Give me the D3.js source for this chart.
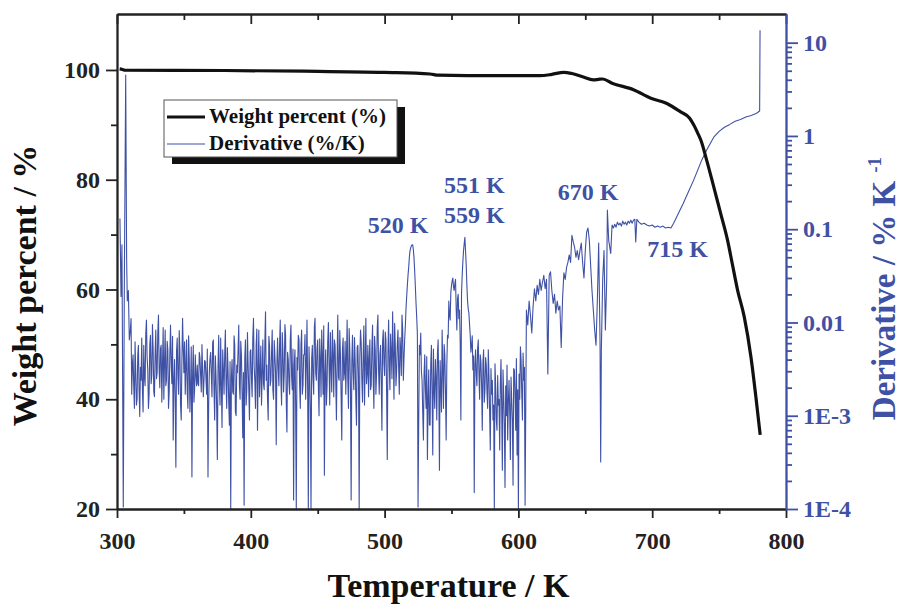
<!DOCTYPE html>
<html>
<head>
<meta charset="utf-8" />
<title>TGA weight percent and derivative</title>
<script src="https://d3js.org/d3.v7.min.js"></script>
<style>
  body { margin: 0; background: #fff; }
  text { font-family: "Liberation Serif", "Times New Roman", serif; font-weight: bold; }
</style>
</head>
<body>
<div id="chart"></div>
<script>

// ---- data ----
// weight percent (%) against temperature (K)
var weightT = [302, 304, 306, 380, 440, 500, 534, 540, 562, 616, 625, 634, 640, 648, 656, 660, 663, 670, 686, 699, 711, 721, 728, 731, 734, 736.4, 741, 746, 751, 756.3, 760, 763.8, 768.8, 773.8, 777.5, 780.7];
var weightV = [100.2, 100.1, 99.95, 99.9, 99.78, 99.55, 99.27, 99.05, 98.96, 98.96, 99.2, 99.58, 99.35, 98.75, 98.18, 98.3, 98.36, 97.6, 96.4, 94.85, 93.9, 92.4, 91.2, 90.0, 88.5, 87.2, 83.3, 78.7, 74, 69, 64.5, 59.9, 55.0, 47.7, 40.4, 33.5];

// derivative (%/K): first readings before the noisy part
var derivHeadT = [302.2, 303, 303.7, 304.7, 305.5, 306.5, 307.2, 307.7, 308.5, 309.2];
var derivHeadV = [0.13, 0.019, 0.068, 0.000105, 0.029, 4.5, 0.047, 0.017, 0.022, 0.0065];

// noisy part, readings at whole kelvins starting at 310 K
var derivNoiseStart = 310;
var derivNoise = [
  0.0083, 0.0017, 0.0045, 0.0012, 0.0029, 0.0015, 0.0057, 0.00098, 0.0024, 0.0019,
  0.0057, 0.0021, 0.0106, 0.0031, 0.0017, 0.0073, 0.0027, 0.0051, 0.0016, 0.0083,
  0.0029, 0.012, 0.002, 0.0057, 0.0035, 0.0015, 0.0083, 0.0024, 0.0051, 0.0018,
  0.0094, 0.0022, 0.00055, 0.004, 0.00028, 0.0068, 0.0017, 0.0051, 0.0009, 0.0111,
  0.0029, 0.0017, 0.0065, 0.0012, 0.004, 0.0021, 0.00022, 0.0057, 0.0019, 0.0027,
  0.0035, 0.0021, 0.0042, 0.0018, 0.0031, 0.0024, 0.0038, 0.0017, 0.00022, 0.0029,
  0.0048, 0.0016, 0.0065, 0.0009, 0.0027, 0.00034, 0.0073, 0.0013, 0.0021, 0.0051,
  0.0017, 0.0083, 0.0012, 0.0031, 0.00079, 0.0001, 0.004, 0.0017, 0.0057, 0.001,
  0.0029, 0.0094, 0.0015, 0.0045, 0.00058, 0.00011, 0.0065, 0.0019, 0.0035, 0.0009,
  0.0051, 0.0016, 0.0111, 0.0024, 0.0057, 0.0007, 0.0083, 0.0029, 0.0013, 0.0065,
  0.0019, 0.013, 0.0035, 0.0009, 0.0057, 0.0024, 0.0083, 0.0015, 0.0045, 0.00049,
  0.0068, 0.0021, 0.0106, 0.0013, 0.0051, 0.0029, 0.0073, 0.00067, 0.004, 0.0017,
  0.0094, 0.0019, 0.000125, 0.0051, 0.0001, 0.0031, 0.0065, 0.0012, 0.0083, 0.0021,
  0.0045, 0.0015, 0.0106, 0.0001, 0.0029, 0.0001, 0.0057, 0.0017, 0.0111, 0.0024,
  0.0065, 0.001, 0.004, 0.0083, 0.0017, 0.00023, 0.0051, 0.0021, 0.01, 0.0013,
  0.0035, 0.0083, 0.0016, 0.0057, 0.0009, 0.012, 0.0024, 0.0045, 0.00055, 0.0068,
  0.0029, 0.0017, 0.0106, 0.0012, 0.0051, 0.000125, 0.0073, 0.0019, 0.004, 0.00079,
  0.0057, 0.0001, 0.0083, 0.0024, 0.0045, 0.0013, 0.0111, 0.0029, 0.0016, 0.0065,
  0.0021, 0.0094, 0.0012, 0.0051, 0.0029, 0.012, 0.0017, 0.0057, 0.0007, 0.0083,
  0.0027, 0.0065, 0.00034, 0.0106, 0.0019, 0.0048, 0.013, 0.0015, 0.0057, 0.0031,
  0.0083, 0.0017, 0.0051, 0.012, 0.0024, 0.0065, 0.014, 0.025, 0.039, 0.059,
  0.066, 0.068, 0.049, 0.024, 0.0114, 0.000105, 0.0057, 0.0077, 0.0024, 0.00055,
  0.0045, 0.0012, 0.00034, 0.0031, 0.00079, 0.0057, 0.00038, 0.0019, 0.004, 0.0009,
  0.0065, 0.00026, 0.0021, 0.0083, 0.0012, 0.0045, 0.00055, 0.0073, 0.017, 0.0106,
  0.025, 0.030, 0.022, 0.029, 0.0083, 0.020, 0.0136, 0.0009, 0.032, 0.059,
  0.082, 0.041, 0.017, 0.0126, 0.0073, 0.0057, 0.0031, 0.00015, 0.0051, 0.0021,
  0.0065, 0.0015, 0.0038, 0.0007, 0.0051, 0.0019, 0.0035, 0.0012, 0.0027, 0.00043,
  0.0017, 0.0009, 0.0001, 0.0021, 0.0007, 0.0013, 0.00043, 0.004, 0.00026, 0.0017,
  0.00017, 0.001, 0.00055, 0.0024, 0.00034, 0.0015, 0.00018, 0.0031, 0.0007, 0.00038,
  0.0001, 0.0015, 0.004, 0.0009, 0.0024, 0.00011
];
// readings half a kelvin later (310.5, 311.5, ...)
var derivNoiseHalf = [
  0.011, 0.0035, 0.0021, 0.0062, 0.0013, 0.0044, 0.0019, 0.0033, 0.0068, 0.0011,
  0.0026, 0.0075, 0.0043, 0.0012, 0.0058, 0.0022, 0.0095, 0.0018, 0.0048, 0.0025,
  0.0078, 0.0031, 0.0052, 0.0014, 0.0088, 0.0037, 0.0021, 0.0063, 0.0012, 0.0046,
  0.0036, 0.0071, 0.0024, 0.0015, 0.0049, 0.0027, 0.0082, 0.0013, 0.0039, 0.0053,
  0.0062, 0.0034, 0.0018, 0.0072, 0.0011, 0.0055, 0.0028, 0.0014, 0.0045, 0.0021,
  0.0022, 0.0048, 0.0027, 0.0058, 0.0016, 0.0039, 0.0025, 0.0052, 0.0013, 0.0041,
  0.0028, 0.0061, 0.0019, 0.0044, 0.0012, 0.0033, 0.0023, 0.0068, 0.00075, 0.0031,
  0.0046, 0.0022, 0.0054, 0.0014, 0.0038, 0.0026, 0.0018, 0.0072, 0.0011, 0.0035,
  0.0052, 0.0021, 0.0063, 0.0017, 0.0029, 0.0041, 0.0013, 0.0078, 0.0019, 0.0049,
  0.0025, 0.0068, 0.0034, 0.0012, 0.0085, 0.0031, 0.0016, 0.0056, 0.0027, 0.0022,
  0.0061, 0.0024, 0.0015, 0.0071, 0.0021, 0.0047, 0.0019, 0.0064, 0.0029, 0.0036,
  0.0032, 0.0057, 0.0024, 0.0078, 0.0018, 0.0095, 0.0014, 0.0048, 0.0023, 0.0066,
  0.0026, 0.0052, 0.0035, 0.0014, 0.0042, 0.0073, 0.0021, 0.0058, 0.0017, 0.0045,
  0.0074, 0.0036, 0.0019, 0.0055, 0.0012, 0.0041, 0.0025, 0.0088, 0.0029, 0.0053,
  0.0021, 0.0067, 0.0016, 0.0044, 0.0092, 0.0028, 0.0013, 0.0062, 0.0034, 0.0078,
  0.0018, 0.0047, 0.0065, 0.0023, 0.0039, 0.0026, 0.0082, 0.0016, 0.0051, 0.0024,
  0.0063, 0.0042, 0.0025, 0.0086, 0.0019, 0.0038, 0.0029, 0.0069, 0.0015, 0.0054,
  0.0026, 0.0043, 0.0062, 0.0014, 0.0092, 0.0035, 0.0022, 0.0057, 0.0041, 0.0019,
  0.0055, 0.0024, 0.0071, 0.0017, 0.0088, 0.0031, 0.0046, 0.0022, 0.0063, 0.0036,
  0.0079, 0.0018, 0.0048, 0.0034, 0.0075, 0.0025, 0.0044, 0.0098, 0.0021, 0.0059,
  0.0033, 0.0069, 0.0027, 0.0084, 0.0042, 0.0092, 0.019, 0.032, 0.05, 0.063,
  0.068, 0.06, 0.035, 0.016, 0.0075, 0.0009, 0.0045, 0.003, 0.0011, 0.0028,
  0.0019, 0.0043, 0.0015, 0.0008, 0.0036, 0.0017, 0.0052, 0.0012, 0.0026, 0.0047,
  0.0021, 0.0039, 0.0011, 0.0031, 0.0058, 0.0018, 0.0035, 0.0068, 0.012, 0.021,
  0.028, 0.024, 0.026, 0.014, 0.018, 0.011, 0.0062, 0.021, 0.045, 0.07,
  0.058, 0.025, 0.014, 0.0095, 0.0048, 0.0072, 0.0044, 0.0035, 0.0028, 0.0052,
  0.0029, 0.0045, 0.0021, 0.0038, 0.0014, 0.0042, 0.0018, 0.0051, 0.0011, 0.0032,
  0.0024, 0.0013, 0.0036, 0.0009, 0.0027, 0.0015, 0.0022, 0.0012, 0.0031, 0.0008,
  0.0021, 0.0035, 0.0014, 0.0011, 0.0026, 0.0009, 0.0032, 0.0016, 0.0041, 0.0019,
  0.0028, 0.0055, 0.0018, 0.0047, 0.0033
];

// last part, from 606 K to the end of the run
var derivTailT = [606, 607, 608, 609, 610, 611, 612, 613, 614, 615, 616, 617, 618, 619, 620, 621, 622, 623, 624, 625,
  626, 627, 628, 629, 630, 631, 632, 633, 634, 635, 636, 637, 638, 639, 640, 641, 642, 643, 644, 645,
  646, 647, 648, 649, 650, 651, 652, 653, 654, 655, 656, 657, 658, 659, 660, 661, 661.5, 662, 663, 664,
  665, 666, 666.5, 667.5, 669, 670, 671, 672, 673, 674, 675, 676, 677, 678, 679, 680, 681, 682, 683, 684,
  685, 686, 687, 687.7, 688.5, 690, 692, 694, 696, 698, 700, 702, 704, 706, 708, 710, 712, 714, 716, 719,
  723, 727, 731, 734, 737, 741, 746, 750, 754, 758, 762, 766, 770, 774, 778, 780.3, 780.6];
var derivTailV = [0.0136, 0.0094, 0.017, 0.012, 0.0077, 0.015, 0.023, 0.017, 0.025, 0.020, 0.029, 0.022, 0.027, 0.032, 0.023, 0.029, 0.0028, 0.032, 0.035, 0.022,
  0.016, 0.020, 0.0126, 0.017, 0.0136, 0.015, 0.0054, 0.018, 0.034, 0.029, 0.039, 0.044, 0.053, 0.044, 0.086, 0.073, 0.064, 0.050, 0.059, 0.047,
  0.059, 0.071, 0.044, 0.030, 0.059, 0.093, 0.103, 0.076, 0.041, 0.022, 0.0136, 0.0083, 0.0057, 0.017, 0.071, 0.0065, 0.00032, 0.0051, 0.029, 0.059,
  0.0083, 0.029, 0.16, 0.076, 0.055, 0.111, 0.103, 0.113, 0.105, 0.119, 0.111, 0.116, 0.108, 0.122, 0.113, 0.119, 0.111, 0.122, 0.116, 0.125,
  0.116, 0.125, 0.128, 0.073, 0.128, 0.119, 0.113, 0.116, 0.111, 0.108, 0.111, 0.105, 0.108, 0.105, 0.108, 0.103, 0.105, 0.103, 0.116, 0.142,
  0.186, 0.25, 0.336, 0.43, 0.55, 0.72, 0.97, 1.12, 1.24, 1.33, 1.44, 1.5, 1.6, 1.66, 1.75, 1.85, 13.6];

// peak labels: centre temperature and baseline height on the derivative axis
var peakLabels = [
  {text: "520 K", T: 510, d: 0.091},
  {text: "551 K", T: 567, d: 0.244},
  {text: "559 K", T: 567, d: 0.116},
  {text: "670 K", T: 652, d: 0.205},
  {text: "715 K", T: 719, d: 0.05}
];

var xTicks = [300, 400, 500, 600, 700, 800];
var xMinor = [350, 450, 550, 650, 750];
var wTicks = [20, 40, 60, 80, 100];
var wMinor = [30, 50, 70, 90];
var dTicks = [1e-4, 1e-3, 0.01, 0.1, 1, 10];
var dTickLabels = ["1E-4", "1E-3", "0.01", "0.1", "1", "10"];

var blue = "#3F51A5";

// ---- layout ----
var margin = {top: 14, right: 119, bottom: 97, left: 117},
    width = 905 - margin.left - margin.right,
    height = 606 - margin.top - margin.bottom;

var svg = d3.select("#chart")
  .append("svg")
    .attr("width", 905)
    .attr("height", 606)
  .append("g")
    .attr("transform", "translate(" + margin.left + "," + margin.top + ")");

var x = d3.scaleLinear().domain([300, 800]).range([0, width]);
var yW = d3.scaleLinear().domain([20, 110.2]).range([height, 0]);
var yD = d3.scaleLog().domain([1e-4, 20.3]).range([height, 0]);

// put the derivative pieces together as points
var deriv = [];
derivHeadT.forEach(function(t, i) { deriv.push([t, derivHeadV[i]]); });
derivNoise.forEach(function(v, i) {
  deriv.push([derivNoiseStart + i, v]);
  if (i < derivNoiseHalf.length) deriv.push([derivNoiseStart + i + 0.5, derivNoiseHalf[i]]);
});
derivTailT.forEach(function(t, i) { deriv.push([t, derivTailV[i]]); });

var weight = weightT.map(function(t, i) { return [t, weightV[i]]; });

svg.append("clipPath").attr("id", "plotclip")
  .append("rect").attr("width", width).attr("height", height);

// derivative line (blue, log axis)
svg.append("path")
  .datum(deriv)
  .attr("clip-path", "url(#plotclip)")
  .attr("fill", "none")
  .attr("stroke", blue)
  .attr("stroke-width", 1.1)
  .attr("stroke-linejoin", "round")
  .attr("d", d3.line()
    .x(function(d) { return x(d[0]); })
    .y(function(d) { return yD(d[1]); }));

// weight line (black)
svg.append("path")
  .datum(weight)
  .attr("fill", "none")
  .attr("stroke", "#111")
  .attr("stroke-width", 3.2)
  .attr("stroke-linejoin", "round")
  .attr("d", d3.line()
    .curve(d3.curveMonotoneX)
    .x(function(d) { return x(d[0]); })
    .y(function(d) { return yW(d[1]); }));

// ---- axes ----
function styleAxis(g, color) {
  g.select(".domain").attr("stroke", color).attr("stroke-width", 1.8);
  g.selectAll(".tick line").attr("stroke", color).attr("stroke-width", 1.8);
  g.selectAll(".tick text")
    .attr("fill", color)
    .style("font-family", "'Liberation Serif', 'Times New Roman', serif")
    .style("font-weight", "bold")
    .style("font-size", "24px");
}

// bottom
svg.append("g")
  .attr("transform", "translate(0," + height + ")")
  .call(d3.axisBottom(x).tickValues(xTicks).tickSize(9).tickSizeOuter(0).tickPadding(14))
  .call(styleAxis, "#222");
svg.append("g")
  .attr("transform", "translate(0," + height + ")")
  .call(d3.axisBottom(x).tickValues(xMinor).tickSize(5).tickSizeOuter(0).tickFormat(""))
  .call(styleAxis, "#222");

// top, ticks inward
svg.append("g")
  .call(d3.axisTop(x).tickValues(xTicks).tickSize(-10).tickSizeOuter(0).tickFormat(""))
  .call(styleAxis, "#222");
svg.append("g")
  .call(d3.axisTop(x).tickValues(xMinor).tickSize(-6).tickSizeOuter(0).tickFormat(""))
  .call(styleAxis, "#222");

// left
svg.append("g")
  .call(d3.axisLeft(yW).tickValues(wTicks).tickSize(11).tickSizeOuter(0).tickPadding(6))
  .call(styleAxis, "#222");
svg.append("g")
  .call(d3.axisLeft(yW).tickValues(wMinor).tickSize(6).tickSizeOuter(0).tickFormat(""))
  .call(styleAxis, "#222");

// right, log
var dMinor = [];
dTicks.slice(0, -1).forEach(function(dec) {
  for (var k = 2; k <= 9; k++) dMinor.push(dec * k);
});
svg.append("g")
  .attr("transform", "translate(" + width + ",0)")
  .call(d3.axisRight(yD).tickValues(dTicks).tickSize(12).tickSizeOuter(0).tickPadding(5)
    .tickFormat(function(d, i) { return dTickLabels[i]; }))
  .call(styleAxis, blue);
svg.append("g")
  .attr("transform", "translate(" + width + ",0)")
  .call(d3.axisRight(yD).tickValues(dMinor).tickSize(6).tickSizeOuter(0).tickFormat(""))
  .call(styleAxis, blue);

// ---- axis titles ----
svg.append("text")
  .attr("x", width / 2 - 3)
  .attr("y", height + 88)
  .attr("text-anchor", "middle")
  .style("font-size", "34px")
  .attr("fill", "#111")
  .text("Temperature / K");

svg.append("text")
  .attr("transform", "translate(" + (-81) + "," + (height / 2 + 24) + ") rotate(-90)")
  .attr("text-anchor", "middle")
  .style("font-size", "34px")
  .attr("fill", "#111")
  .text("Weight percent / %");

var rt = svg.append("text")
  .attr("transform", "translate(" + (width + 109) + "," + (height / 2 + 27) + ") rotate(-90)")
  .attr("text-anchor", "middle")
  .style("font-size", "33px")
  .attr("fill", blue);
rt.append("tspan").text("Derivative / % K ");
rt.append("tspan").attr("dy", -14).style("font-size", "19px").text("-1");

// ---- peak labels ----
svg.selectAll(".peak")
  .data(peakLabels)
  .enter().append("text")
  .attr("class", "peak")
  .attr("x", function(d) { return x(d.T); })
  .attr("y", function(d) { return yD(d.d); })
  .attr("text-anchor", "middle")
  .style("font-size", "24px")
  .attr("fill", blue)
  .text(function(d) { return d.text; });

// ---- legend ----
var legend = svg.append("g")
  .attr("transform", "translate(" + (164 - margin.left) + "," + (100 - margin.top) + ")");
legend.append("rect")
  .attr("x", 8).attr("y", 7)
  .attr("width", 233).attr("height", 57)
  .attr("fill", "#111");
legend.append("rect")
  .attr("width", 233).attr("height", 57)
  .attr("fill", "#fff")
  .attr("stroke", "#555")
  .attr("stroke-width", 1);

var legendItems = [
  {label: "Weight percent (%)", color: "#111", w: 3.2},
  {label: "Derivative (%/K)", color: blue, w: 1.1}
];
var li = legend.selectAll(".legend-item")
  .data(legendItems)
  .enter().append("g")
  .attr("class", "legend-item")
  .attr("transform", function(d, i) { return "translate(0," + (17 + i * 27) + ")"; });
li.append("line")
  .attr("x1", 3).attr("x2", 41)
  .attr("stroke", function(d) { return d.color; })
  .attr("stroke-width", function(d) { return d.w; });
li.append("text")
  .attr("x", 45)
  .attr("y", 6)
  .style("font-size", "21px")
  .attr("fill", "#111")
  .text(function(d) { return d.label; });

</script>
</body>
</html>
